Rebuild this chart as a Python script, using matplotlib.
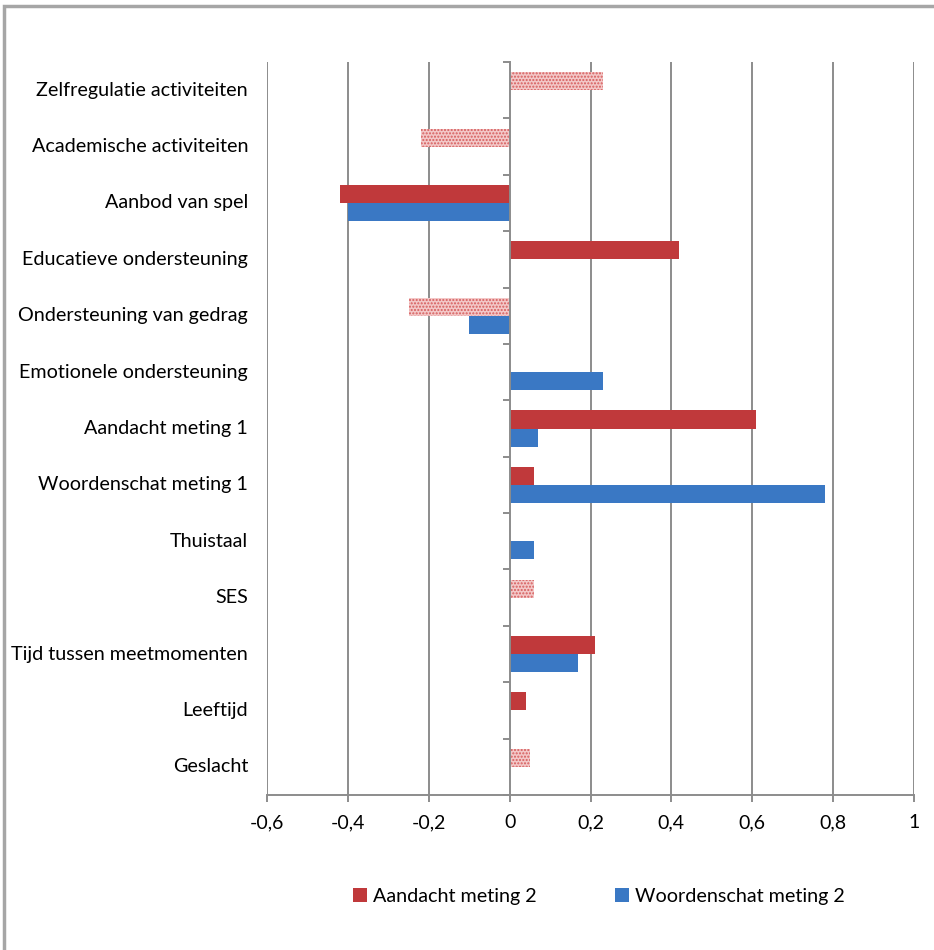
import matplotlib.pyplot as plt
import matplotlib.transforms as mtransforms
from matplotlib.patches import Patch, Rectangle

plt.rcParams['font.family'] = ['Lato', 'DejaVu Sans']

# Categories listed bottom to top
categories = ['Geslacht', 'Leeftijd', 'Tijd tussen meetmomenten', 'SES', 'Thuistaal',
              'Woordenschat meting 1', 'Aandacht meting 1', 'Emotionele ondersteuning',
              'Ondersteuning van gedrag', 'Educatieve ondersteuning', 'Aanbod van spel',
              'Academische activiteiten', 'Zelfregulatie activiteiten']
aandacht = [0.05, 0.04, 0.21, 0.06, 0, 0.06, 0.61, 0, -0.25, 0.42, -0.42, -0.22, 0.23]
aandacht_ns = [True, False, False, True, False, False, False, False, True, False, False, True, True]
woordenschat = [0, 0, 0.17, 0, 0.06, 0.78, 0.07, 0.23, -0.10, 0, -0.40, 0, 0]
xticks = [-0.6, -0.4, -0.2, 0, 0.2, 0.4, 0.6, 0.8, 1]
xticklabels = ['-0,6', '-0,4', '-0,2', '0', '0,2', '0,4', '0,6', '0,8', '1']

red = '#C0393B'
blue = '#3A78C4'
grid = '#8C8C8C'

fig = plt.figure(figsize=(9.34, 9.5), dpi=100)
ax = fig.add_axes([267 / 934, 1 - 795 / 950, 647 / 934, 733 / 950])

# Outer chart frame
fig.add_artist(Rectangle((4 / 934, -0.05), 1.2, 1 - 6 / 950 + 0.05, transform=fig.transFigure,
                         fill=False, edgecolor='#A6A6A6', linewidth=2.5))

h = 0.32
for i, (a, ns, w) in enumerate(zip(aandacht, aandacht_ns, woordenschat)):
    if a != 0:
        if ns:
            ax.barh(i + h / 2, a, height=h, color='#F3C8C8', edgecolor='#D65C5C',
                    hatch='.....', linewidth=0, zorder=3)
        else:
            ax.barh(i + h / 2, a, height=h, color=red, linewidth=0, zorder=3)
    if w != 0:
        ax.barh(i - h / 2, w, height=h, color=blue, linewidth=0, zorder=3)

ax.set_xlim(-0.6, 1)
ax.set_ylim(-0.5, len(categories) - 0.5)

# vertical gridlines
for x in xticks:
    if x != 0:
        ax.axvline(x, color=grid, linewidth=1.4, zorder=1)

for s in ['top', 'right']:
    ax.spines[s].set_visible(False)
ax.spines['left'].set_position(('data', 0))
ax.spines['left'].set_color(grid)
ax.spines['left'].set_linewidth(1.4)
ax.spines['left'].set_zorder(4)
ax.spines['bottom'].set_color(grid)
ax.spines['bottom'].set_linewidth(1.4)

ax.set_yticks([i - 0.5 for i in range(len(categories) + 1)])
ax.set_yticklabels([])
ax.tick_params(axis='y', direction='out', length=5, width=1.4, color=grid)
ax.set_xticks(xticks)
ax.set_xticklabels(xticklabels, fontsize=14)
ax.tick_params(axis='x', direction='out', length=5, width=1.4, color=grid, pad=9)

trans = mtransforms.blended_transform_factory(fig.transFigure, ax.transData)
for i, c in enumerate(categories):
    ax.text(248 / 934, i, c, transform=trans, ha='right', va='center', fontsize=14.2)

handles = [Patch(facecolor=red, label='Aandacht meting 2'),
           Patch(facecolor=blue, label='Woordenschat meting 2')]
fig.legend(handles=handles, loc='center', bbox_to_anchor=(0.641, 0.056), ncol=2,
           frameon=False, fontsize=14.2, handlelength=0.7, handleheight=0.7,
           handletextpad=0.3, columnspacing=4.0)

fig.savefig('out.png', dpi=100)
